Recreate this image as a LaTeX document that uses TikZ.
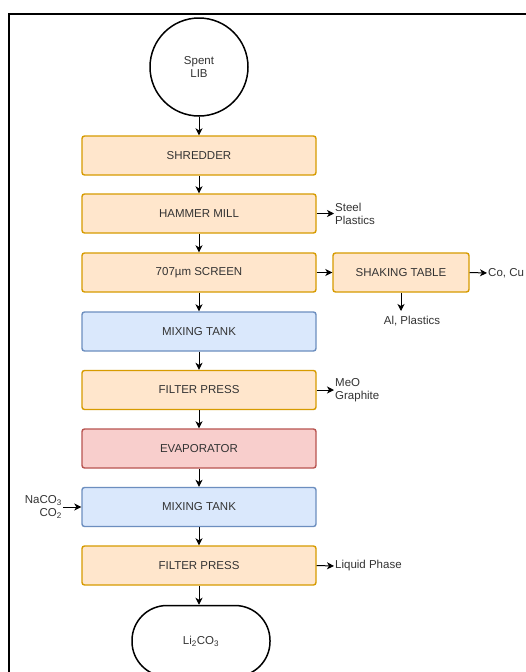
\documentclass[tikz,border=0pt]{standalone}
\usepackage{fontspec}
\setmainfont{Liberation Sans}
\usetikzlibrary{arrows.meta}
\definecolor{orfill}{HTML}{FFE6CC}
\definecolor{ordraw}{HTML}{D79B00}
\definecolor{blfill}{HTML}{DAE8FC}
\definecolor{bldraw}{HTML}{6C8EBF}
\definecolor{rdfill}{HTML}{F8CECC}
\definecolor{rddraw}{HTML}{B85450}
\definecolor{txt}{HTML}{333333}
\tikzset{
  base/.style={font=\fontsize{11.5}{13}\selectfont, text=txt},
  procbox/.style={base, rectangle, rounded corners=2.5pt, line width=1.4pt, minimum width=234pt, minimum height=39pt, inner sep=0pt},
  orbox/.style={procbox, draw=ordraw, fill=orfill},
  blbox/.style={procbox, draw=bldraw, fill=blfill},
  rdbox/.style={procbox, draw=rddraw, fill=rdfill},
  lbl/.style={base, align=left, inner sep=1pt},
  arr/.style={line width=1pt, -{Stealth[length=7pt,width=7pt,inset=2pt]}},
}
\begin{document}
\begin{tikzpicture}[x=1pt,y=-1pt]
\useasboundingbox (0,0) rectangle (526,672);
\fill[white] (0,0) rectangle (526,672);
\draw[line width=2.2pt] (9,14) rectangle (560,700);

\node[base, circle, draw=black, line width=1.5pt, minimum size=98pt, align=center, inner sep=0pt] (lib) at (199,67) {Spent\\LIB};
\node[orbox] (shr) at (199,155.5) {SHREDDER};
\node[orbox] (hm) at (199,213.5) {HAMMER MILL};
\node[orbox] (scr) at (199,272.5) {707µm SCREEN};
\node[orbox] (st) at (401,272.5) [minimum width=136pt] {SHAKING TABLE};
\node[blbox] (mt1) at (199,331.5) {MIXING TANK};
\node[orbox] (fp1) at (199,390) {FILTER PRESS};
\node[rdbox] (ev) at (199,448.5) {EVAPORATOR};
\node[blbox] (mt2) at (199,507) {MIXING TANK};
\node[orbox] (fp2) at (199,565.5) {FILTER PRESS};
\node[base, draw=black, line width=1.5pt, rounded corners=35pt, minimum width=138pt, minimum height=71pt, inner sep=0pt] (li) at (201,641) {Li\textsubscript{2}CO\textsubscript{3}};

\node[lbl, anchor=west] (steel) at (334,214) {Steel\\Plastics};
\node[lbl, anchor=west] (cocu) at (487,273) {Co, Cu};
\node[lbl, anchor=north] (al) at (412,315) {Al, Plastics};
\coordinate (alin) at (401,311);
\node[lbl, anchor=west] (meo) at (334,390) {MeO\\Graphite};
\node[lbl, anchor=east, align=right] (na) at (63,507) {NaCO\textsubscript{3}\\CO\textsubscript{2}};
\node[lbl, anchor=west] (liq) at (334,566) {Liquid Phase};

\draw[arr] (lib) -- (shr);
\draw[arr] (shr) -- (hm);
\draw[arr] (hm) -- (scr);
\draw[arr] (scr) -- (mt1);
\draw[arr] (mt1) -- (fp1);
\draw[arr] (fp1) -- (ev);
\draw[arr] (ev) -- (mt2);
\draw[arr] (mt2) -- (fp2);
\draw[arr] (fp2.south) -- (fp2.south |- li.north);
\draw[arr] (hm.east) -- (steel.west |- hm.east);
\draw[arr] (scr.east) -- (st.west);
\draw[arr] (st.east) -- (cocu.west);
\draw[arr] (st.south) -- (alin);
\draw[arr] (fp1.east) -- (meo.west |- fp1.east);
\draw[arr] (na.east) -- (mt2.west);
\draw[arr] (fp2.east) -- (liq.west);
\end{tikzpicture}
\end{document}
